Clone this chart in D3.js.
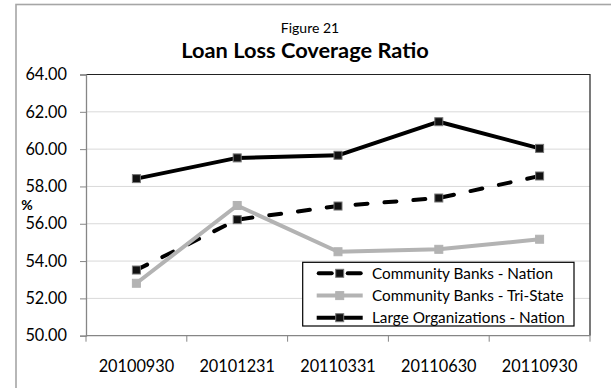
<!DOCTYPE html>
<html>
<head>
<meta charset="utf-8">
<script src="https://cdn.jsdelivr.net/npm/d3@7"></script>
<style>
  html, body { margin: 0; padding: 0; background: #fff; }
  svg { display: block; font-family: Lato, "Open Sans", sans-serif; }
</style>
</head>
<body>
<svg id="chart" width="611" height="388"></svg>
<script>
// Quarter-end reporting dates
const categories = ["20100930", "20101231", "20110331", "20110630", "20110930"];

// Loan loss coverage ratio (%) per series
const communityNation   = [53.52, 56.22, 56.95, 57.38, 58.56];
const communityTriState = [52.81, 56.98, 54.50, 54.63, 55.17];
const largeOrgNation    = [58.42, 59.53, 59.67, 61.47, 60.04];

const seriesNames = [
  "Community Banks - Nation",
  "Community Banks - Tri-State",
  "Large Organizations - Nation"
];

// Y axis ticks
const yTicks = [50, 52, 54, 56, 58, 60, 62, 64];

const series = [
  { name: seriesNames[0], values: communityNation,   color: "#000", marker: "#111", markerStroke: "#777", dash: "12,17" },
  { name: seriesNames[1], values: communityTriState, color: "#b3b3b3", marker: "#b3b3b3", markerStroke: "#b3b3b3", dash: null },
  { name: seriesNames[2], values: largeOrgNation,    color: "#000", marker: "#111", markerStroke: "#777", dash: null }
];

const svg = d3.select("#chart");

// Outer chart frame (extends past the window on right and bottom)
svg.append("rect")
  .attr("x", 16).attr("y", 4.5)
  .attr("width", 700).attr("height", 500)
  .attr("fill", "#fff")
  .attr("stroke", "#a6a6a6").attr("stroke-width", 1.6);

// Plot area
const plot = { left: 86, right: 590, top: 74.5, bottom: 335.7 };

const x = d3.scaleBand()
  .domain(categories)
  .range([plot.left, plot.right])
  .padding(0);

const y = d3.scaleLinear()
  .domain([50, 64])
  .range([plot.bottom, plot.top]);

// Gridlines
svg.append("g")
  .selectAll("line")
  .data(yTicks.filter(t => t > 50 && t < 64))
  .join("line")
  .attr("x1", plot.left).attr("x2", plot.right)
  .attr("y1", d => y(d)).attr("y2", d => y(d))
  .attr("stroke", "#d9d9d9").attr("stroke-width", 1);

// Plot border (top and right)
svg.append("path")
  .attr("d", `M${plot.left},${plot.top}H${plot.right}V${plot.bottom}`)
  .attr("fill", "none")
  .attr("stroke", "#222").attr("stroke-width", 1.2);

// Y axis
const yAxis = d3.axisLeft(y)
  .tickValues(yTicks)
  .tickSize(6)
  .tickPadding(13)
  .tickFormat(d3.format(".2f"));

const gy = svg.append("g")
  .attr("transform", `translate(${plot.left},0)`)
  .call(yAxis);
gy.select(".domain").attr("stroke", "#868686").attr("stroke-width", 1.3);
gy.selectAll(".tick line").attr("stroke", "#868686");
gy.selectAll(".tick text")
  .attr("fill", "#000")
  .style("font-family", "Lato, sans-serif")
  .style("font-size", "16.3px");

// X axis: ticks sit between categories
const gx = svg.append("g")
  .attr("transform", `translate(0,${plot.bottom})`);
gx.append("line")
  .attr("x1", plot.left).attr("x2", plot.right)
  .attr("stroke", "#868686").attr("stroke-width", 1.3);
const boundaries = categories.map(c => x(c)).concat([x(categories[categories.length - 1]) + x.bandwidth()]);
gx.selectAll("line.tick")
  .data(boundaries)
  .join("line")
  .attr("class", "tick")
  .attr("x1", d => d).attr("x2", d => d)
  .attr("y1", 0).attr("y2", 6)
  .attr("stroke", "#868686").attr("stroke-width", 1);
gx.selectAll("text")
  .data(categories)
  .join("text")
  .attr("x", d => x(d) + x.bandwidth() / 2)
  .attr("y", 36)
  .attr("text-anchor", "middle")
  .style("font-size", "16.3px")
  .attr("fill", "#000")
  .text(d => d);

// Y axis title
svg.append("text")
  .attr("x", 27).attr("y", 209.5)
  .attr("text-anchor", "middle")
  .style("font-size", "14px")
  .style("font-weight", "bold")
  .text("%");

// Titles
svg.append("text")
  .attr("x", 310).attr("y", 32.7)
  .attr("text-anchor", "middle")
  .style("font-size", "14px")
  .text("Figure 21");

svg.append("text")
  .attr("x", 305).attr("y", 57.5)
  .attr("text-anchor", "middle")
  .style("font-size", "21.8px")
  .style("font-weight", "bold")
  .text("Loan Loss Coverage Ratio");

// Series lines and markers
const line = d3.line()
  .x((d, i) => x(categories[i]) + x.bandwidth() / 2)
  .y(d => y(d));

const mSize = 8;
series.forEach(s => {
  const g = svg.append("g");
  g.append("path")
    .datum(s.values)
    .attr("d", line)
    .attr("fill", "none")
    .attr("stroke", s.color)
    .attr("stroke-width", 4)
    .attr("stroke-linejoin", "round")
    .attr("stroke-linecap", s.dash ? "round" : "butt")
    .attr("stroke-dasharray", s.dash);
  g.selectAll("rect")
    .data(s.values)
    .join("rect")
    .attr("x", (d, i) => x(categories[i]) + x.bandwidth() / 2 - mSize / 2)
    .attr("y", d => y(d) - mSize / 2)
    .attr("width", mSize).attr("height", mSize)
    .attr("fill", s.marker)
    .attr("stroke", s.markerStroke).attr("stroke-width", 1);
});

// Legend
const legend = { x: 302.7, y: 262.3, w: 271.3, h: 63.7 };
const lg = svg.append("g");
lg.append("rect")
  .attr("x", legend.x).attr("y", legend.y)
  .attr("width", legend.w).attr("height", legend.h)
  .attr("fill", "#fff")
  .attr("stroke", "#000").attr("stroke-width", 1.2);

const rowY = [273.3, 295.6, 317.7];
const sampleX0 = 316.7, sampleX1 = 362.7;
series.forEach((s, i) => {
  const row = lg.append("g");
  const yy = rowY[i];
  const mx = (sampleX0 + sampleX1) / 2;
  if (s.dash) {
    row.append("line")
      .attr("x1", sampleX0 + 2).attr("x2", mx - 8)
      .attr("y1", yy).attr("y2", yy)
      .attr("stroke", s.color).attr("stroke-width", 4).attr("stroke-linecap", "round");
    row.append("line")
      .attr("x1", mx + 8).attr("x2", sampleX1 - 2)
      .attr("y1", yy).attr("y2", yy)
      .attr("stroke", s.color).attr("stroke-width", 4).attr("stroke-linecap", "round");
  } else {
    row.append("line")
      .attr("x1", sampleX0).attr("x2", sampleX1)
      .attr("y1", yy).attr("y2", yy)
      .attr("stroke", s.color).attr("stroke-width", 4);
  }
  row.append("rect")
    .attr("x", mx - mSize / 2).attr("y", yy - mSize / 2)
    .attr("width", mSize).attr("height", mSize)
    .attr("fill", s.marker)
    .attr("stroke", s.markerStroke).attr("stroke-width", 1);
  row.append("text")
    .attr("x", 372).attr("y", yy + 5.3)
    .style("font-size", "15.3px")
    .attr("fill", "#000")
    .text(s.name);
});
</script>
</body>
</html>
